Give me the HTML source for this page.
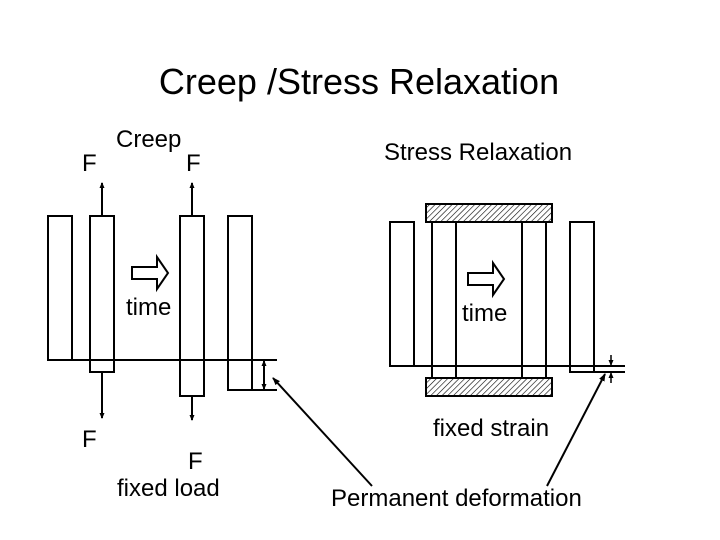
<!DOCTYPE html>
<html><head><style>body{margin:0;background:#fff}svg{display:block}text{font-family:"Liberation Sans",sans-serif;fill:#000}</style></head><body>
<svg width="720" height="540" viewBox="0 0 720 540" xmlns="http://www.w3.org/2000/svg">
<defs>
<pattern id="h" width="4" height="4" patternUnits="userSpaceOnUse" patternTransform="rotate(45)"><rect width="4" height="4" fill="#fff"/><line x1="0" y1="0" x2="0" y2="4" stroke="#000" stroke-width="1.2"/></pattern>
<marker id="a" markerWidth="8" markerHeight="8" refX="7" refY="4" orient="auto" markerUnits="userSpaceOnUse"><path d="M0,1 L8,4 L0,7 z" fill="#000"/></marker>
<marker id="s" markerWidth="6" markerHeight="6" refX="5" refY="3" orient="auto" markerUnits="userSpaceOnUse"><path d="M0,0.5 L6,3 L0,5.5 z" fill="#000"/></marker>
</defs>
<text x="359" y="94" font-size="36" text-anchor="middle">Creep /Stress Relaxation</text>
<text x="116" y="147" font-size="24">Creep</text>
<text x="82" y="171" font-size="24">F</text>
<text x="186" y="171" font-size="24">F</text>
<text x="384" y="160" font-size="24">Stress Relaxation</text>
<g fill="none" stroke="#000" stroke-width="2">
<rect x="48" y="216" width="24" height="144"/>
<rect x="90" y="216" width="24" height="156"/>
<rect x="180" y="216" width="24" height="180"/>
<rect x="228" y="216" width="24" height="174"/>
<line x1="48" y1="360" x2="277" y2="360"/>
<line x1="252" y1="390" x2="277" y2="390"/>
<line x1="102" y1="216" x2="102" y2="183" marker-end="url(#s)"/>
<line x1="192" y1="216" x2="192" y2="183" marker-end="url(#s)"/>
<line x1="102" y1="372" x2="102" y2="418" marker-end="url(#s)"/>
<line x1="192" y1="396" x2="192" y2="420" marker-end="url(#s)"/>
<line x1="264" y1="375" x2="264" y2="361" marker-end="url(#s)"/>
<line x1="264" y1="375" x2="264" y2="389" marker-end="url(#s)"/>
<path d="M132,267 H157 V257 L168,273 L157,289 V279 H132 Z"/>
<rect x="390" y="222" width="24" height="144"/>
<line x1="432" y1="222" x2="432" y2="378"/><line x1="456" y1="222" x2="456" y2="378"/>
<line x1="522" y1="222" x2="522" y2="378"/><line x1="546" y1="222" x2="546" y2="378"/>
<rect x="570" y="222" width="24" height="150"/>
<line x1="390" y1="366" x2="625" y2="366"/>
<line x1="594" y1="372" x2="625" y2="372"/>
<path d="M468,273 H493 V263 L504,279 L493,295 V285 H468 Z"/>
</g>
<rect x="426" y="204" width="126" height="18" fill="url(#h)" stroke="#000" stroke-width="2"/>
<rect x="426" y="378" width="126" height="18" fill="url(#h)" stroke="#000" stroke-width="2"/>
<g stroke="#000" stroke-width="1.5" fill="none">
<line x1="611" y1="355" x2="611" y2="365" marker-end="url(#s)"/>
<line x1="611" y1="383" x2="611" y2="373" marker-end="url(#s)"/>
<line x1="372" y1="486" x2="273" y2="378" stroke-width="2" marker-end="url(#a)"/>
<line x1="547" y1="486" x2="605" y2="374" stroke-width="2" marker-end="url(#a)"/>
</g>
<text x="126" y="315" font-size="24">time</text>
<text x="462" y="321" font-size="24">time</text>
<text x="82" y="447" font-size="24">F</text>
<text x="188" y="469" font-size="24">F</text>
<text x="117" y="496" font-size="24">fixed load</text>
<text x="433" y="436" font-size="24">fixed strain</text>
<text x="331" y="506" font-size="24">Permanent deformation</text>
</svg>
</body></html>
